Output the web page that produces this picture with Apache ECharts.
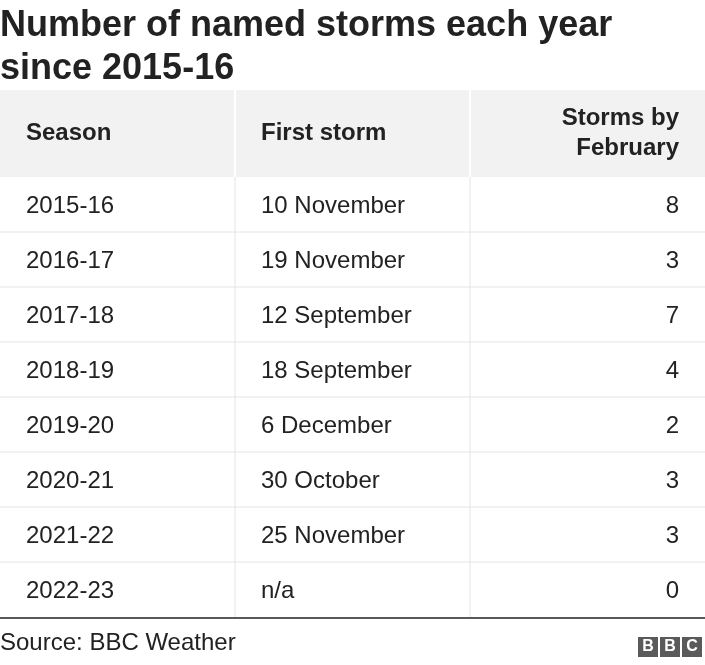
<!DOCTYPE html>
<html><head><meta charset="utf-8">
<script src="https://cdn.jsdelivr.net/npm/echarts@6/dist/echarts.min.js"></script>
<style>html,body{margin:0;padding:0;background:#fff}#c{width:705px;height:665px}</style>
</head><body><div id="c"></div>
<script>
const seasons=["2015-16","2016-17","2017-18","2018-19","2019-20","2020-21","2021-22","2022-23"];
const firstStorm=["10 November","19 November","12 September","18 September","6 December","30 October","25 November","n/a"];
const stormsByFeb=[8,3,7,4,2,3,3,0];
const headers=["Season","First storm","Storms by\nFebruary"];

const F='Liberation Sans, Arial, sans-serif';
const els=[];
els.push({type:'text',left:0,top:5,style:{text:'Number of named storms each year\nsince 2015-16',font:'bold 36px '+F,fill:'#222',lineHeight:43}});
const top0=90,hH=87,rH=55;
els.push({type:'rect',shape:{x:0,y:top0,width:705,height:hH},style:{fill:'#f2f2f2'}});
[235,470].forEach(x=>els.push({type:'rect',shape:{x:x-1,y:top0,width:2,height:hH},style:{fill:'#fff'}}));
els.push({type:'text',x:26,y:top0+hH/2,style:{text:headers[0],font:'bold 24px '+F,fill:'#222',verticalAlign:'middle'}});
els.push({type:'text',x:261,y:top0+hH/2,style:{text:headers[1],font:'bold 24px '+F,fill:'#222',verticalAlign:'middle'}});
els.push({type:'text',x:679,y:top0+hH/2,style:{text:headers[2],font:'bold 24px '+F,fill:'#222',align:'right',verticalAlign:'middle',lineHeight:30}});
seasons.forEach((s,i)=>{
  const y0=top0+hH+i*rH, cy=y0+rH/2+2;
  if(i>0) els.push({type:'line',shape:{x1:0,y1:y0,x2:705,y2:y0},style:{stroke:'#e4e4e4',lineWidth:1}});
  [235,470].forEach(x=>els.push({type:'line',shape:{x1:x,y1:y0,x2:x,y2:y0+rH},style:{stroke:'#e4e4e4',lineWidth:1}}));
  els.push({type:'text',x:26,y:cy,style:{text:s,font:'24px '+F,fill:'#222',verticalAlign:'middle'}});
  els.push({type:'text',x:261,y:cy,style:{text:firstStorm[i],font:'24px '+F,fill:'#222',verticalAlign:'middle'}});
  els.push({type:'text',x:679,y:cy,style:{text:String(stormsByFeb[i]),font:'24px '+F,fill:'#222',align:'right',verticalAlign:'middle'}});
});
const yB=top0+hH+seasons.length*rH+1;
els.push({type:'line',shape:{x1:0,y1:yB,x2:705,y2:yB},style:{stroke:'#222',lineWidth:1.5}});
els.push({type:'text',x:0,y:643,style:{text:'Source: BBC Weather',font:'24px '+F,fill:'#222',verticalAlign:'middle'}});
['B','B','C'].forEach((l,i)=>{
  const x=638+i*22;
  els.push({type:'rect',shape:{x:x,y:637,width:20,height:20},style:{fill:'#5a5a5a'}});
  els.push({type:'text',x:x+10,y:647,style:{text:l,font:'bold 16px '+F,fill:'#fff',align:'center',verticalAlign:'middle'}});
});
const chart=echarts.init(document.getElementById('c'));
chart.setOption({animation:false,graphic:{elements:els}});
</script></body></html>
